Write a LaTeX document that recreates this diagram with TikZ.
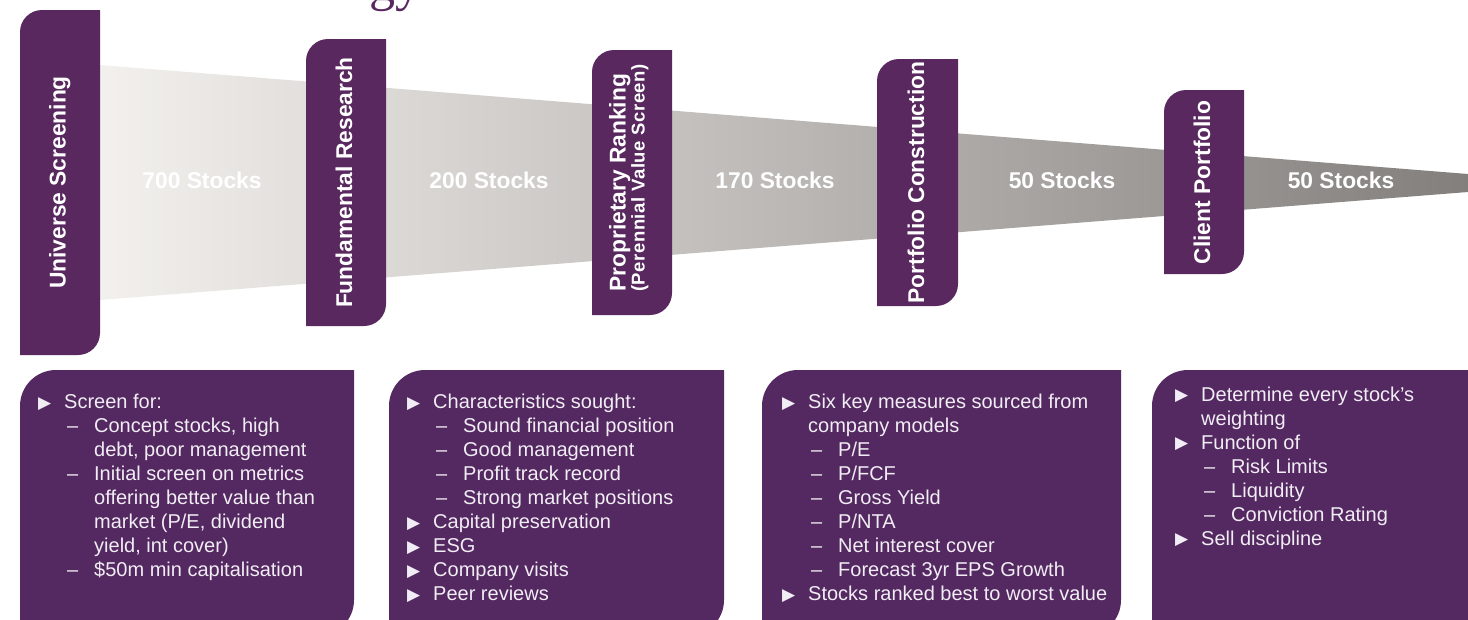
\documentclass[tikz,border=0pt]{standalone}
\usepackage{fontspec}
\setmainfont{Liberation Sans}
\newfontfamily\symf{DejaVu Sans}
\newfontfamily\ttlf{Liberation Serif}
\newfontfamily\subf[LetterSpace=3]{Liberation Sans}
\definecolor{plum}{RGB}{88,40,95}
\definecolor{boxplum}{RGB}{84,40,96}
\definecolor{txtw}{RGB}{241,237,244}
\definecolor{funl}{RGB}{243,241,238}
\definecolor{funr}{RGB}{131,127,125}
\newcommand\tri{\makebox[26pt][l]{\raisebox{0.5pt}{\symf\fontsize{17}{17}\selectfont ▶}}}
\newcommand\lA[1]{\tri #1}
\newcommand\lB[1]{\hspace*{29pt}\makebox[27pt][l]{–}#1}
\newcommand\lC[1]{\hspace*{26pt}#1}
\newcommand\lD[1]{\hspace*{56pt}#1}
% slab: colour, left, top, right, bottom, radius (rounded top-left and bottom-right)
\newcommand\slab[6]{\fill[#1] (#2,#5) -- (#2,#3+#6) arc[start angle=180,end angle=90,radius=#6pt] -- (#4,#3) -- (#4,#5-#6) arc[start angle=0,end angle=-90,radius=#6pt] -- cycle;}
\begin{document}
\begin{tikzpicture}[x=1pt,y=-1pt,
  stocklbl/.style={text=white,font=\fontsize{22.8}{27}\selectfont\bfseries,inner sep=0,anchor=base},
  bartxt/.style={text=white,font=\fontsize{22.8}{27}\selectfont\bfseries,inner sep=0,rotate=90,anchor=base},
  bartxtsub/.style={text=white,font=\subf\fontsize{18.5}{20}\selectfont\bfseries,inner sep=0,rotate=90,anchor=base west},
  itemtxt/.style={text=txtw,font=\fontsize{20}{24}\selectfont,inner sep=0,anchor=base west}]
\useasboundingbox (0,0) rectangle (1468,619);
\clip (0,0) rectangle (1468,619);

% cut-off title
\node[font=\ttlf\fontsize{52}{52}\selectfont,text=plum,inner sep=0,anchor=base west] (ttl) at (369,0) {gy};

% funnel
\shade[left color=funl,right color=funr] (96,64.7) -- (1468,174) -- (1468,192) -- (96,300.3) -- cycle;

% stage bars
\slab{plum}{20}{10}{100}{355}{22}
\slab{plum}{306}{39}{386}{326}{22}
\slab{plum}{592}{50}{672}{315}{22}
\slab{plum}{877}{59}{958}{306}{22}
\slab{plum}{1164}{90}{1244}{274}{22}

\node[bartxt] (s1) at (65.5,182.5) {Universe Screening};
\node[bartxt] (s2) at (352,182.5) {Fundamental Research};
\node[bartxt,anchor=base west] (s3) at (625.5,292) {Proprietary Ranking};
\node[bartxtsub] (s3b) at (644.5,292) {(Perennial Value Screen)};
\node[bartxt] (s4) at (924,182.5) {Portfolio Construction};
\node[bartxt] (s5) at (1210,182.5) {Client Portfolio};

% stock counts
\node[stocklbl] (n1) at (202,188) {700 Stocks};
\node[stocklbl] (n2) at (489,188) {200 Stocks};
\node[stocklbl] (n3) at (775,188) {170 Stocks};
\node[stocklbl] (n4) at (1062,188) {50 Stocks};
\node[stocklbl] (n5) at (1341,188) {50 Stocks};

% description boxes
\slab{boxplum}{20}{370}{354}{636}{36}
\slab{boxplum}{389}{370}{724}{636}{36}
\slab{boxplum}{762}{370}{1121}{636}{36}
\slab{boxplum}{1152}{370}{1520}{636}{36}

\foreach \t [count=\i] in {{\lA{Screen for:}},{\lB{Concept stocks, high}},{\lD{debt, poor management}},{\lB{Initial screen on metrics}},{\lD{offering better value than}},{\lD{market (P/E, dividend}},{\lD{yield, int cover)}},{\lB{\$50m min capitalisation}}}
  \node[itemtxt] (a\i) at (38,{384.5+24*\i}) {\t};

\foreach \t [count=\i] in {{\lA{Characteristics sought:}},{\lB{Sound financial position}},{\lB{Good management}},{\lB{Profit track record}},{\lB{Strong market positions}},{\lA{Capital preservation}},{\lA{ESG}},{\lA{Company visits}},{\lA{Peer reviews}}}
  \node[itemtxt] (b\i) at (407,{384.5+24*\i}) {\t};

\foreach \t [count=\i] in {{\lA{Six key measures sourced from}},{\lC{company models}},{\lB{P/E}},{\lB{P/FCF}},{\lB{Gross Yield}},{\lB{P/NTA}},{\lB{Net interest cover}},{\lB{Forecast 3yr EPS Growth}},{\lA{Stocks ranked best to worst value}}}
  \node[itemtxt] (c\i) at (782,{384.5+24*\i}) {\t};

\foreach \t [count=\i] in {{\lA{Determine every stock’s}},{\lC{weighting}},{\lA{Function of}},{\lB{Risk Limits}},{\lB{Liquidity}},{\lB{Conviction Rating}},{\lA{Sell discipline}}}
  \node[itemtxt] (d\i) at (1175,{377+24*\i}) {\t};
\end{tikzpicture}
\end{document}
